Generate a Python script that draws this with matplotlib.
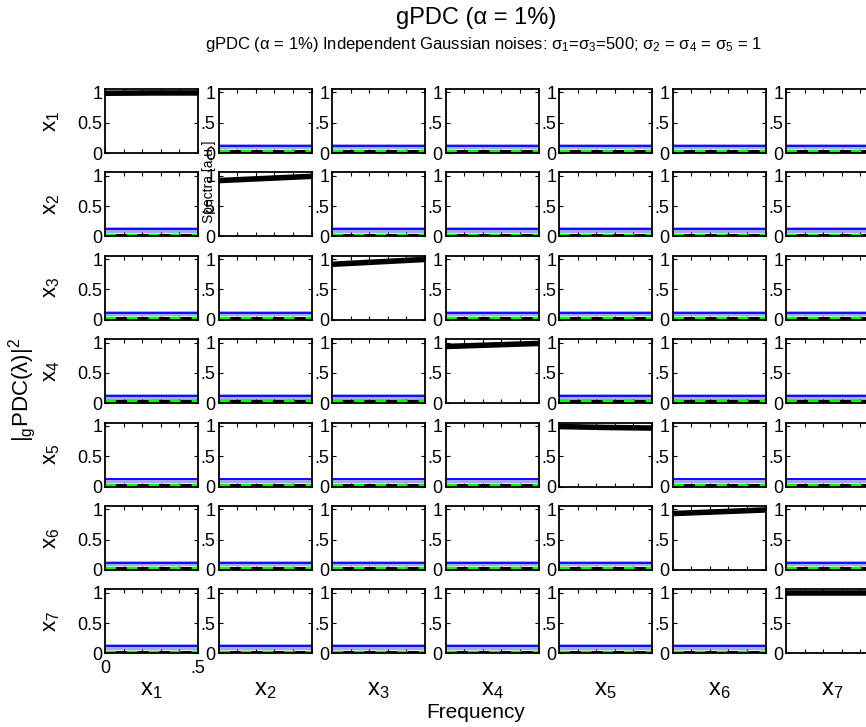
import numpy as np
import matplotlib
matplotlib.use("Agg")
import matplotlib.pyplot as plt

plt.rcParams['font.family'] = ['Liberation Sans', 'DejaVu Sans']
plt.rcParams['mathtext.default'] = 'regular'

# data
freqs = [0.0, 0.25, 0.5]
var_names = ['x$_1$', 'x$_2$', 'x$_3$', 'x$_4$', 'x$_5$', 'x$_6$', 'x$_7$']
# diagonal spectra (normalised), read at freqs
diag_spectra = [
    [0.985, 0.99, 0.99],
    [0.92, 0.955, 0.99],
    [0.915, 0.955, 0.995],
    [0.935, 0.96, 0.985],
    [0.99, 0.975, 0.965],
    [0.93, 0.96, 0.99],
    [0.99, 0.99, 0.99],
]
# off-diagonal gPDC (all ~0), threshold, confidence band
gpdc_off = [0.012, 0.012, 0.012]
gpdc_sig = [0.03, 0.03, 0.03]
threshold = [0.12, 0.12, 0.12]
ci_low = [0.06, 0.06, 0.06]
ci_high = [0.15, 0.15, 0.15]

W, H = 866, 727
fig = plt.figure(figsize=(W / 100, H / 100), dpi=100)

n = len(var_names)
x0, dx, aw = 105, 113.5, 93
y0, dy, ah = 153, 83.4, 64

for i in range(n):
    for j in range(n):
        ax = fig.add_axes([(x0 + j * dx) / W, 1 - (y0 + i * dy) / H, aw / W, ah / H])
        if i == j:
            ax.plot(freqs, diag_spectra[i], color='k', lw=4, solid_capstyle='butt')
        else:
            ax.fill_between(freqs, ci_low, ci_high, color='#a8a8f0', lw=0)
            ax.plot(freqs, threshold, color='b', lw=1.3)
            ax.plot(freqs, gpdc_off, color='k', lw=3)
            ax.plot(freqs, gpdc_sig, color='#00ff00', lw=2.5, dashes=(3, 3.2),
                    dash_capstyle='butt')
        ax.set_xlim(0, 0.5)
        ax.set_ylim(0, 1.055)
        ax.set_xticks([0, 0.1, 0.2, 0.3, 0.4, 0.5])
        ax.set_yticks([0, 0.5, 1])
        ax.tick_params(direction='in', length=3, width=0.8, top=True, right=True,
                       labelsize=13, pad=2)
        if j == 0:
            ax.set_yticklabels(['0', '0.5', '1'])
        else:
            ax.set_yticklabels(['0', '.5', '1'])
        if i == n - 1 and j == 0:
            ax.set_xticklabels(['0', '', '', '', '', '.5'])
            ax.tick_params(axis='x', pad=5)
        else:
            ax.set_xticklabels([])
        for s in ax.spines.values():
            s.set_linewidth(1.3)

for i in range(n):
    yc = y0 + i * dy - ah / 2
    fig.text(52 / W, 1 - yc / H, var_names[i], rotation=90, ha='center', va='center', fontsize=16)
for j in range(n):
    xc = x0 + j * dx + aw / 2
    fig.text(xc / W, 1 - 690 / H, var_names[j], ha='center', va='center', fontsize=17)

fig.text(476 / W, 1 - 712 / H, 'Frequency', ha='center', va='center', fontsize=15)
fig.text(22 / W, 1 - 390 / H, '|$_g$PDC(λ)|$^2$', rotation=90, ha='center', va='center', fontsize=16)
fig.text(209 / W, 1 - 182 / H, 'Spectra [a.u.]', rotation=90, ha='center', va='center', fontsize=10)
fig.text(476 / W, 1 - 18 / H, 'gPDC (α = 1%)', ha='center', va='center', fontsize=17)
fig.text(483 / W, 1 - 44 / H,
         'gPDC (α = 1%) Independent Gaussian noises: σ$_1$=σ$_3$=500; σ$_2$ = σ$_4$ = σ$_5$ = 1',
         ha='center', va='center', fontsize=12)

fig.savefig('out.png', dpi=100)
